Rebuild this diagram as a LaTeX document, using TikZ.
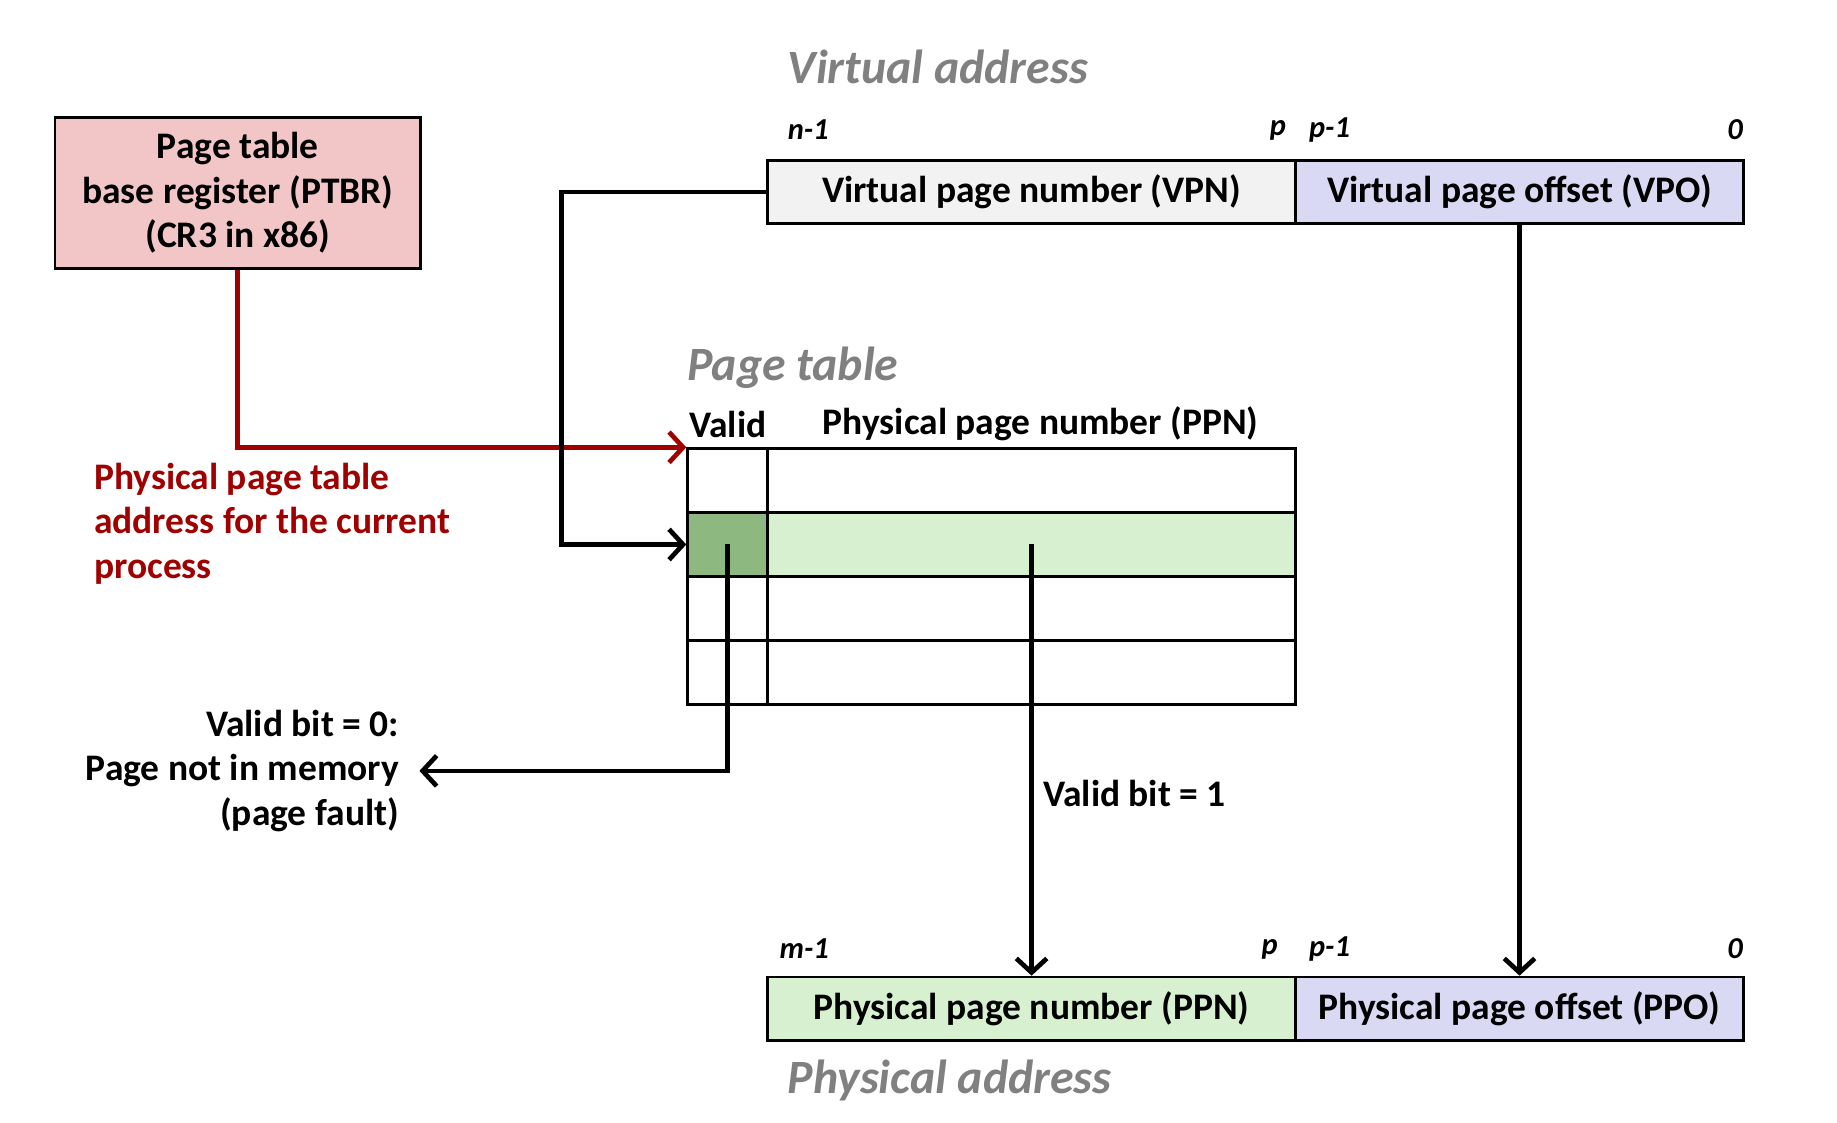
\documentclass[tikz,border=0pt]{standalone}
\usepackage{fontspec}
\setmainfont{Carlito}
\usepackage{tikz}
\usetikzlibrary{arrows.meta, calc}
\definecolor{ptbrpink}{HTML}{F2C6C6}
\definecolor{vpngray}{HTML}{F2F2F2}
\definecolor{offblue}{HTML}{D9D9F3}
\definecolor{ppngreen}{HTML}{D7F0D0}
\definecolor{validgreen}{HTML}{8DB87F}
\definecolor{ptred}{HTML}{A00000}
\definecolor{titlegray}{HTML}{808080}
\tikzset{>={Straight Barb[length=6pt,width=13pt]}}
\tikzset{
  field/.style={draw, line width=1.2pt, minimum height=27pt, inner sep=0pt,
    font=\fontsize{16}{19}\selectfont\bfseries},
  cell/.style={draw, line width=1.2pt, minimum height=27.25pt, inner sep=0pt},
  title/.style={anchor=west, inner sep=0pt, text=titlegray,
    font=\fontsize{20.4}{24}\selectfont\bfseries\itshape},
  bitlbl/.style={inner sep=0pt, font=\fontsize{13}{15}\selectfont\bfseries\itshape},
  lbl/.style={inner sep=0pt, font=\fontsize{16}{19}\selectfont\bfseries},
  link/.style={line width=2pt, ->}
}

\begin{document}
\begin{tikzpicture}[x=0.5pt, y=-0.5pt]
        \useasboundingbox (0,0) rectangle (1568,958);

        % page table base register
        \node[field, fill=ptbrpink, minimum width=156pt, minimum height=64.5pt,
              align=center] (ptbr) at (203,164.5)
              {Page table\\base register (PTBR)\\(CR3 in x86)};

        % virtual address
        \node[title] (vatitle) at (672,57) {Virtual address};
        \node[field, fill=vpngray, minimum width=225.5pt] (vpn) at (880.5,164)
              {Virtual page number (VPN)};
        \node[field, fill=offblue, minimum width=191pt] (vpo) at (1297,164)
              {Virtual page offset (VPO)};
        \node[bitlbl, anchor=west] (vn) at (672,111) {n-1};
        \node[bitlbl, anchor=east] (vp) at (1098,111) {p};
        \node[bitlbl, anchor=west] (vp1) at (1117,111) {p-1};
        \node[bitlbl, anchor=east] (v0) at (1488,111) {0};

        % page table
        \node[title] (pttitle) at (586,314) {Page table};
        \node[lbl, anchor=west] (validhd) at (588,362) {Valid};
        \node[lbl, anchor=west] (ppnhd) at (702,362) {Physical page number (PPN)};
        \foreach \r in {0,...,3}{
            \node[cell, minimum width=34pt] (v\r) at (621,410.25+54.5*\r) {};
            \node[cell, minimum width=225.5pt] (e\r) at (880.5,410.25+54.5*\r) {};
        }
        \node[cell, fill=validgreen, minimum width=34pt] at (v1) {};
        \node[cell, fill=ppngreen, minimum width=225.5pt] at (e1) {};

        % physical address
        \node[field, fill=ppngreen, minimum width=225.5pt] (ppn) at (880.5,861)
              {Physical page number (PPN)};
        \node[field, fill=offblue, minimum width=191pt] (ppo) at (1297,861)
              {Physical page offset (PPO)};
        \node[bitlbl, anchor=west] (pm) at (665,810) {m-1};
        \node[bitlbl, anchor=east] (pp) at (1091,810) {p};
        \node[bitlbl, anchor=west] (pp1) at (1117,810) {p-1};
        \node[bitlbl, anchor=east] (p0) at (1488,810) {0};
        \node[title] (patitle) at (672,922) {Physical address};

        % labels
        \node[lbl, anchor=west, align=left, text=ptred] (ptaddr) at (80,447)
              {Physical page table\\address for the current\\process};
        \node[lbl, anchor=east, align=right] (fault) at (341,658)
              {Valid bit = 0:\\Page not in memory\\(page fault)};
        \node[lbl, anchor=west] (hit) at (890,677) {Valid bit = 1};

        % connectors
        \coordinate (vjog) at (479,0);
        \draw[link, ptred] (ptbr.south) |- (v0.north west);
        \draw[link] (vpn.west) -- (vpn.west -| vjog) |- (v1.west);
        \draw[link] (v1.center) |- ($(fault.east)+(17,0)$);
        \draw[link] (e1.center) -- (ppn.north);
        \draw[link] (vpo.south) -- (ppo.north);
\end{tikzpicture}
\end{document}
